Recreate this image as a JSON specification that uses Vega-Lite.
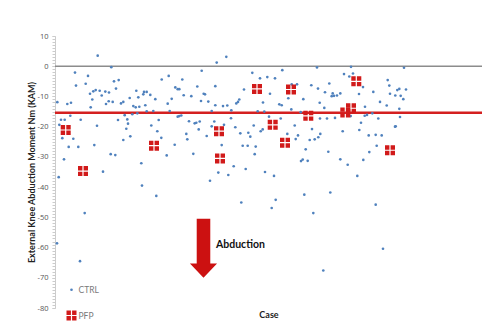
{
  "$schema": "https://vega.github.io/schema/vega-lite/v6.json",
  "width": 427,
  "height": 272,
  "autosize": {"type": "none"},
  "padding": {"left": 55, "top": 36, "right": 5, "bottom": 23},
  "background": "#ffffff",
  "config": {
    "view": {"stroke": null},
    "font": "Lato",
    "legend": {"orient": "none", "legendX": 10.5, "legendY": 249.5, "title": null, "padding": 0, "rowPadding": 15, "labelOffset": 1, "labelFontSize": 8.5, "labelColor": "#7a7a7a", "labelFont": "Lato"}
  },
  "resolve": {"axis": {"y": "independent"}},
  "datasets": {
    "pts": [
      {"c":42.7,"v":3.5,"g":"CTRL"},{"c":56.3,"v":-0.3,"g":"CTRL"},{"c":20,"v":-2.1,"g":"CTRL"},{"c":33,"v":-3.2,"g":"CTRL"},{"c":21,"v":-6.4,"g":"CTRL"},{"c":30.7,"v":-5.8,"g":"CTRL"},{"c":59,"v":-5,"g":"CTRL"},{"c":63.7,"v":-4.6,"g":"CTRL"},{"c":61,"v":-7.4,"g":"CTRL"},{"c":38.3,"v":-8.3,"g":"CTRL"},{"c":40.7,"v":-7.9,"g":"CTRL"},{"c":44.7,"v":-8.1,"g":"CTRL"},{"c":50.3,"v":-8.4,"g":"CTRL"},{"c":54,"v":-8.7,"g":"CTRL"},{"c":35,"v":-9.1,"g":"CTRL"},{"c":37.3,"v":-11,"g":"CTRL"},{"c":46.7,"v":-9.7,"g":"CTRL"},{"c":57.7,"v":-11.8,"g":"CTRL"},{"c":53.7,"v":-11.6,"g":"CTRL"},{"c":51,"v":-12.5,"g":"CTRL"},{"c":66,"v":-12.3,"g":"CTRL"},{"c":68.3,"v":-11.8,"g":"CTRL"},{"c":74.7,"v":-10.5,"g":"CTRL"},{"c":81.3,"v":-8.1,"g":"CTRL"},{"c":83.3,"v":-10.3,"g":"CTRL"},{"c":78.3,"v":-13.2,"g":"CTRL"},{"c":80.7,"v":-13.6,"g":"CTRL"},{"c":84.3,"v":-13.4,"g":"CTRL"},{"c":89,"v":-8.5,"g":"CTRL"},{"c":91.7,"v":-8.5,"g":"CTRL"},{"c":88.3,"v":-9.3,"g":"CTRL"},{"c":95.3,"v":-9.5,"g":"CTRL"},{"c":90.3,"v":-12.9,"g":"CTRL"},{"c":100.3,"v":-10.9,"g":"CTRL"},{"c":106.7,"v":-4.4,"g":"CTRL"},{"c":112.7,"v":-12.4,"g":"CTRL"},{"c":2.3,"v":-11.9,"g":"CTRL"},{"c":12.3,"v":-12.5,"g":"CTRL"},{"c":16,"v":-12.1,"g":"CTRL"},{"c":35.7,"v":-13.6,"g":"CTRL"},{"c":6,"v":-17.7,"g":"CTRL"},{"c":9.7,"v":-17.7,"g":"CTRL"},{"c":15.3,"v":-16.4,"g":"CTRL"},{"c":25.7,"v":-17.7,"g":"CTRL"},{"c":4.3,"v":-19.4,"g":"CTRL"},{"c":63,"v":-17.8,"g":"CTRL"},{"c":72.3,"v":-17.6,"g":"CTRL"},{"c":69.7,"v":-16.2,"g":"CTRL"},{"c":77.3,"v":-15.9,"g":"CTRL"},{"c":82.3,"v":-15.6,"g":"CTRL"},{"c":91.7,"v":-14.9,"g":"CTRL"},{"c":98.3,"v":-14.8,"g":"CTRL"},{"c":103.7,"v":-17.8,"g":"CTRL"},{"c":96.3,"v":-19.6,"g":"CTRL"},{"c":73,"v":-19,"g":"CTRL"},{"c":71.3,"v":-20.7,"g":"CTRL"},{"c":42,"v":-19.7,"g":"CTRL"},{"c":75.3,"v":-23.2,"g":"CTRL"},{"c":68.3,"v":-24.4,"g":"CTRL"},{"c":102.3,"v":-21.5,"g":"CTRL"},{"c":106.3,"v":-23.7,"g":"CTRL"},{"c":7.3,"v":-23.8,"g":"CTRL"},{"c":18.3,"v":-24,"g":"CTRL"},{"c":13.7,"v":-26.7,"g":"CTRL"},{"c":23.3,"v":-26.7,"g":"CTRL"},{"c":39.3,"v":-26.1,"g":"CTRL"},{"c":111.7,"v":-29.5,"g":"CTRL"},{"c":55.7,"v":-29.1,"g":"CTRL"},{"c":60.3,"v":-29.4,"g":"CTRL"},{"c":9,"v":-30.8,"g":"CTRL"},{"c":86.3,"v":-32.1,"g":"CTRL"},{"c":48,"v":-34.9,"g":"CTRL"},{"c":3.7,"v":-36.7,"g":"CTRL"},{"c":87,"v":-39.5,"g":"CTRL"},{"c":101.3,"v":-42.9,"g":"CTRL"},{"c":29.7,"v":-48.6,"g":"CTRL"},{"c":2,"v":-58.6,"g":"CTRL"},{"c":25,"v":-64.5,"g":"CTRL"},
      {"c":171.3,"v":3.1,"g":"CTRL"},{"c":161.7,"v":1.2,"g":"CTRL"},{"c":146.7,"v":-1.5,"g":"CTRL"},{"c":197.3,"v":-2.2,"g":"CTRL"},{"c":227.3,"v":-1.3,"g":"CTRL"},{"c":205,"v":-4,"g":"CTRL"},{"c":212.3,"v":-3.6,"g":"CTRL"},{"c":220,"v":-4,"g":"CTRL"},{"c":127.3,"v":-4.4,"g":"CTRL"},{"c":113.7,"v":-3.2,"g":"CTRL"},{"c":142.3,"v":-6.7,"g":"CTRL"},{"c":160.3,"v":-6.6,"g":"CTRL"},{"c":120.3,"v":-7,"g":"CTRL"},{"c":122.7,"v":-7.6,"g":"CTRL"},{"c":124.3,"v":-7.6,"g":"CTRL"},{"c":148.7,"v":-9.1,"g":"CTRL"},{"c":150,"v":-9.3,"g":"CTRL"},{"c":128.7,"v":-9.6,"g":"CTRL"},{"c":136.3,"v":-9.9,"g":"CTRL"},{"c":189,"v":-7.7,"g":"CTRL"},{"c":215,"v":-9.1,"g":"CTRL"},{"c":116.7,"v":-10.8,"g":"CTRL"},{"c":146,"v":-11.5,"g":"CTRL"},{"c":153.3,"v":-11.7,"g":"CTRL"},{"c":184.3,"v":-11,"g":"CTRL"},{"c":183,"v":-11.8,"g":"CTRL"},{"c":181.3,"v":-12.3,"g":"CTRL"},{"c":208,"v":-12,"g":"CTRL"},{"c":224.3,"v":-12.6,"g":"CTRL"},{"c":226.7,"v":-12.9,"g":"CTRL"},{"c":160.3,"v":-12.9,"g":"CTRL"},{"c":172.3,"v":-13,"g":"CTRL"},{"c":168,"v":-13.2,"g":"CTRL"},{"c":114.7,"v":-14.8,"g":"CTRL"},{"c":156.7,"v":-14.8,"g":"CTRL"},{"c":176.3,"v":-14.6,"g":"CTRL"},{"c":202.7,"v":-14.9,"g":"CTRL"},{"c":209.3,"v":-15,"g":"CTRL"},{"c":124.3,"v":-16.5,"g":"CTRL"},{"c":122.7,"v":-16.7,"g":"CTRL"},{"c":126.3,"v":-16.3,"g":"CTRL"},{"c":176,"v":-17.2,"g":"CTRL"},{"c":214,"v":-16.7,"g":"CTRL"},{"c":134,"v":-18.2,"g":"CTRL"},{"c":139.7,"v":-18.9,"g":"CTRL"},{"c":141.3,"v":-18.7,"g":"CTRL"},{"c":144.7,"v":-18.3,"g":"CTRL"},{"c":159.3,"v":-18.3,"g":"CTRL"},{"c":156.7,"v":-19.9,"g":"CTRL"},{"c":169,"v":-19.4,"g":"CTRL"},{"c":180.3,"v":-20.2,"g":"CTRL"},{"c":198.7,"v":-19.6,"g":"CTRL"},{"c":207.7,"v":-20.9,"g":"CTRL"},{"c":205.7,"v":-21.5,"g":"CTRL"},{"c":143.7,"v":-20.9,"g":"CTRL"},{"c":131.3,"v":-22.4,"g":"CTRL"},{"c":151.7,"v":-23.1,"g":"CTRL"},{"c":185.3,"v":-22.2,"g":"CTRL"},{"c":193.3,"v":-22,"g":"CTRL"},{"c":132.3,"v":-24.2,"g":"CTRL"},{"c":195.3,"v":-23.3,"g":"CTRL"},{"c":187.7,"v":-26.3,"g":"CTRL"},{"c":192.7,"v":-26.3,"g":"CTRL"},{"c":200.7,"v":-26.6,"g":"CTRL"},{"c":166.7,"v":-26.1,"g":"CTRL"},{"c":119.7,"v":-26,"g":"CTRL"},{"c":138.3,"v":-29,"g":"CTRL"},{"c":199.7,"v":-29.1,"g":"CTRL"},{"c":178.7,"v":-33.1,"g":"CTRL"},{"c":190.7,"v":-34,"g":"CTRL"},{"c":163.3,"v":-35.2,"g":"CTRL"},{"c":210,"v":-35,"g":"CTRL"},{"c":219,"v":-36.3,"g":"CTRL"},{"c":173.3,"v":-36,"g":"CTRL"},{"c":155,"v":-37.9,"g":"CTRL"},{"c":186.3,"v":-45.1,"g":"CTRL"},{"c":220.7,"v":-44.2,"g":"CTRL"},{"c":216.7,"v":-46.9,"g":"CTRL"},
      {"c":262,"v":-0.4,"g":"CTRL"},{"c":296,"v":-0.2,"g":"CTRL"},{"c":289,"v":-2.6,"g":"CTRL"},{"c":294.3,"v":-3.4,"g":"CTRL"},{"c":298,"v":-2.4,"g":"CTRL"},{"c":332.7,"v":-4.6,"g":"CTRL"},{"c":308,"v":-6.9,"g":"CTRL"},{"c":236.7,"v":-6,"g":"CTRL"},{"c":242,"v":-6,"g":"CTRL"},{"c":256.3,"v":-6.3,"g":"CTRL"},{"c":274.3,"v":-5.7,"g":"CTRL"},{"c":334.3,"v":-6.4,"g":"CTRL"},{"c":263,"v":-7.4,"g":"CTRL"},{"c":232.7,"v":-8.3,"g":"CTRL"},{"c":270,"v":-8.6,"g":"CTRL"},{"c":277.7,"v":-9,"g":"CTRL"},{"c":279,"v":-9.8,"g":"CTRL"},{"c":276.7,"v":-9.9,"g":"CTRL"},{"c":282,"v":-9.7,"g":"CTRL"},{"c":285.3,"v":-9,"g":"CTRL"},{"c":304,"v":-9.2,"g":"CTRL"},{"c":318.3,"v":-8.5,"g":"CTRL"},{"c":342.3,"v":-7.9,"g":"CTRL"},{"c":344.3,"v":-7.5,"g":"CTRL"},{"c":351,"v":-7.7,"g":"CTRL"},{"c":335,"v":-9.1,"g":"CTRL"},{"c":340.3,"v":-9.7,"g":"CTRL"},{"c":345.7,"v":-9.8,"g":"CTRL"},{"c":248.3,"v":-10.9,"g":"CTRL"},{"c":233.3,"v":-10.6,"g":"CTRL"},{"c":264.7,"v":-12.1,"g":"CTRL"},{"c":325,"v":-11.8,"g":"CTRL"},{"c":331.7,"v":-13,"g":"CTRL"},{"c":269.3,"v":-13.8,"g":"CTRL"},{"c":310,"v":-13.4,"g":"CTRL"},{"c":298.3,"v":-14.8,"g":"CTRL"},{"c":236.3,"v":-14.3,"g":"CTRL"},{"c":245.7,"v":-15.2,"g":"CTRL"},{"c":312,"v":-16.1,"g":"CTRL"},{"c":317.3,"v":-15.6,"g":"CTRL"},{"c":309.7,"v":-16.4,"g":"CTRL"},{"c":344.3,"v":-14.1,"g":"CTRL"},{"c":323.3,"v":-17.3,"g":"CTRL"},{"c":272,"v":-17.3,"g":"CTRL"},{"c":280,"v":-17.1,"g":"CTRL"},{"c":265,"v":-17.3,"g":"CTRL"},{"c":295.7,"v":-16.5,"g":"CTRL"},{"c":225.7,"v":-17.3,"g":"CTRL"},{"c":306,"v":-18.7,"g":"CTRL"},{"c":239.7,"v":-19.6,"g":"CTRL"},{"c":340.7,"v":-19.9,"g":"CTRL"},{"c":257,"v":-20.8,"g":"CTRL"},{"c":287.7,"v":-21.5,"g":"CTRL"},{"c":304.3,"v":-21.1,"g":"CTRL"},{"c":232.3,"v":-22.4,"g":"CTRL"},{"c":243,"v":-22.9,"g":"CTRL"},{"c":265.3,"v":-22.4,"g":"CTRL"},{"c":313.7,"v":-22.9,"g":"CTRL"},{"c":320.7,"v":-22.7,"g":"CTRL"},{"c":326.7,"v":-22.9,"g":"CTRL"},{"c":240.7,"v":-24.1,"g":"CTRL"},{"c":254.7,"v":-24.4,"g":"CTRL"},{"c":259.7,"v":-24.2,"g":"CTRL"},{"c":263.3,"v":-23.5,"g":"CTRL"},{"c":250.7,"v":-27.5,"g":"CTRL"},{"c":273.3,"v":-28.3,"g":"CTRL"},{"c":314.3,"v":-28.4,"g":"CTRL"},{"c":321.7,"v":-26.3,"g":"CTRL"},{"c":285.3,"v":-30.8,"g":"CTRL"},{"c":308.3,"v":-31,"g":"CTRL"},{"c":246,"v":-31.4,"g":"CTRL"},{"c":247.7,"v":-30.9,"g":"CTRL"},{"c":252.7,"v":-31.3,"g":"CTRL"},{"c":292.7,"v":-32.6,"g":"CTRL"},{"c":302.3,"v":-36.3,"g":"CTRL"},{"c":249.3,"v":-42.5,"g":"CTRL"},{"c":275.3,"v":-41.8,"g":"CTRL"},{"c":320.7,"v":-45.8,"g":"CTRL"},{"c":258.3,"v":-48.6,"g":"CTRL"},{"c":328,"v":-60.4,"g":"CTRL"},{"c":268.3,"v":-67.6,"g":"CTRL"},{"c":349,"v":-0.5,"g":"CTRL"},{"c":345,"v":-16.8,"g":"CTRL"},{"c":340,"v":-20,"g":"CTRL"},{"c":348.3,"v":-10.9,"g":"CTRL"},
      {"c":10.7,"v":-21.1,"g":"PFP"},{"c":28,"v":-34.7,"g":"PFP"},{"c":99,"v":-26.3,"g":"PFP"},{"c":164,"v":-21.5,"g":"PFP"},{"c":165,"v":-30.5,"g":"PFP"},{"c":202,"v":-7.5,"g":"PFP"},{"c":217.7,"v":-19.4,"g":"PFP"},{"c":230,"v":-25.3,"g":"PFP"},{"c":236,"v":-7.7,"g":"PFP"},{"c":253.3,"v":-16.4,"g":"PFP"},{"c":290.3,"v":-15.3,"g":"PFP"},{"c":296,"v":-13.9,"g":"PFP"},{"c":301.3,"v":-5,"g":"PFP"},{"c":335,"v":-27.8,"g":"PFP"}
    ]
  },
  "layer": [
    {
      "data": {"values": [{"ref": 0}]},
      "mark": {"type": "rule", "color": "#8c8c8c", "strokeWidth": 1.5},
      "encoding": {"y": {"field": "ref", "type": "quantitative", "scale": {"domain": [-80, 10], "nice": false, "zero": false},
        "axis": {"orient": "left", "title": null, "grid": false, "labels": false,
                 "values": [10,9,8,7,6,5,4,3,2,1,0,-1,-2,-3,-4,-5,-6,-7,-8,-9,-10,-11,-12,-13,-14,-15,-16,-17,-18,-19,-20,-21,-22,-23,-24,-25,-26,-27,-28,-29,-30,-31,-32,-33,-34,-35,-36,-37,-38,-39,-40,-41,-42,-43,-44,-45,-46,-47,-48,-49,-50,-51,-52,-53,-54,-55,-56,-57,-58,-59,-60,-61,-62,-63,-64,-65,-66,-67,-68,-69,-70,-71,-72,-73,-74,-75,-76,-77,-78,-79,-80],
                 "tickSize": 3, "tickColor": "#cccccc", "domainColor": "#cccccc"}}}
    },
    {
      "data": {"values": [{"ref": -15.4}]},
      "mark": {"type": "rule", "color": "#d42020", "strokeWidth": 2.5},
      "encoding": {"y": {"field": "ref", "type": "quantitative", "axis": null}}
    },
    {
      "data": {"name": "pts"},
      "mark": {"type": "point", "filled": true, "opacity": 1},
      "encoding": {
        "x": {"field": "c", "type": "quantitative", "scale": {"domain": [0, 427], "nice": false, "zero": false},
              "axis": {"title": "Case", "labels": false, "ticks": false, "domain": false, "grid": false, "titleFont": "Lato", "titleFontWeight": "bold", "titleFontSize": 9, "titleColor": "#222222", "titlePadding": 2}},
        "y": {"field": "v", "type": "quantitative",
              "axis": {"orient": "left", "title": "External Knee Abduction Moment Nm (KAM)", "grid": false, "domain": false,
                       "values": [10, 0, -10, -20, -30, -40, -50, -60, -70, -80],
                       "labelExpr": "toString(datum.value)",
                       "labelOverlap": false, "labelFont": "Open Sans", "labelFontSize": 7.5, "labelColor": "#555555", "labelPadding": 4,
                       "tickSize": 3, "tickColor": "#cccccc",
                       "titleFont": "Lato", "titleFontWeight": "bold", "titleFontSize": 9, "titleColor": "#222222",
                       "titleX": -24, "titleBaseline": "middle"}},
        "color": {"field": "g", "type": "nominal", "scale": {"domain": ["CTRL", "PFP"], "range": ["#4f81bd", "#d11a1a"]}},
        "shape": {"field": "g", "type": "nominal", "scale": {"domain": ["CTRL", "PFP"], "range": ["circle", "M-1,-1H-0.12V-0.12H-1Z M0.12,-1H1V-0.12H0.12Z M-1,0.12H-0.12V1H-1Z M0.12,0.12H1V1H0.12Z"]}},
        "size": {"field": "g", "type": "nominal", "scale": {"domain": ["CTRL", "PFP"], "range": [7, 100]}},
        "order": {"field": "g", "type": "nominal"}
      }
    },
    {
      "data": {"values": [{"c": 148.5, "v": -60.2}]},
      "mark": {"type": "point", "filled": true, "opacity": 1, "color": "#cc1111", "size": 3481, "shape": "M-0.23,-1L0.23,-1L0.23,0.52L0.46,0.52L0,1L-0.46,0.52L-0.23,0.52Z"},
      "encoding": {"x": {"field": "c", "type": "quantitative"}, "y": {"field": "v", "type": "quantitative", "axis": null}}
    },
    {
      "data": {"values": [{"c": 161, "v": -59, "t": "Abduction"}]},
      "mark": {"type": "text", "align": "left", "baseline": "middle", "font": "Lato", "fontWeight": "bold", "fontSize": 10.5, "color": "#111111"},
      "encoding": {"x": {"field": "c", "type": "quantitative"}, "y": {"field": "v", "type": "quantitative", "axis": null}, "text": {"field": "t"}}
    }
  ]
}
